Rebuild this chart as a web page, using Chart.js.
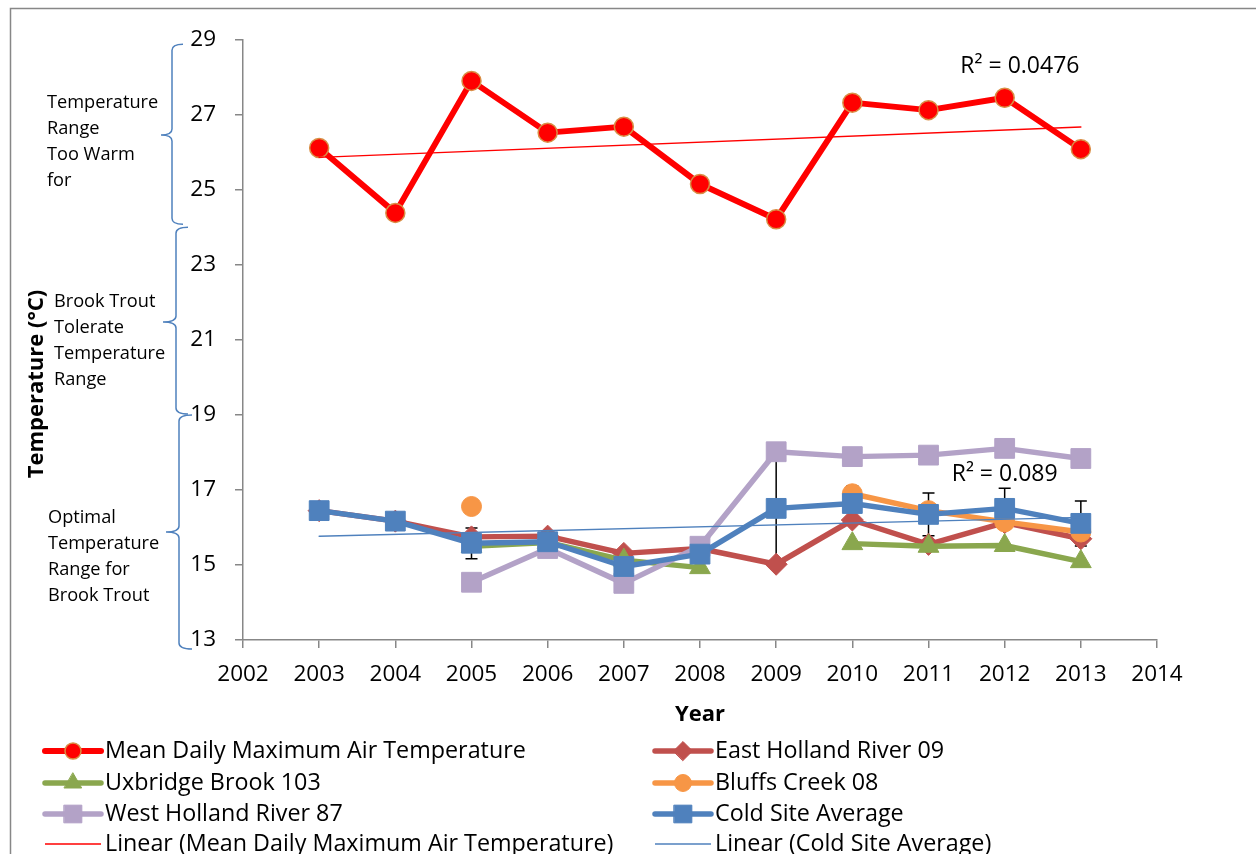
<!DOCTYPE html>
<html>
<head>
<meta charset="utf-8">
<title>Stream and Air Temperature, 2003–2013</title>
<script src="https://cdn.jsdelivr.net/npm/chart.js@4/dist/chart.umd.min.js"></script>
<style>
  html, body { margin: 0; padding: 0; background: #ffffff; overflow: hidden; }
  #wrap { position: relative; width: 1256px; height: 854px; }
  canvas { display: block; }
</style>
</head>
<body>
<div id="wrap"><canvas id="chart" width="1256" height="854"></canvas></div>
<script>
// ---- data -------------------------------------------------------------
const years = [2003, 2004, 2005, 2006, 2007, 2008, 2009, 2010, 2011, 2012, 2013];

const airTempMax    = [26.12, 24.39, 27.91, 26.53, 26.69, 25.16, 24.22, 27.33, 27.13, 27.46, 26.09];
const eastHolland09 = [16.45, 16.17, 15.75, 15.77, 15.31, 15.44, 15.02, 16.20, 15.55, 16.13, 15.70];
const uxbridge103   = [null, null, 15.50, 15.60, 15.13, 14.93, null, 15.57, 15.50, 15.52, 15.09];
const bluffs08      = [null, null, 16.56, null, null, null, null, 16.90, 16.45, 16.15, 15.88];
const westHolland87 = [null, null, 14.54, 15.44, 14.51, 15.50, 18.02, 17.89, 17.93, 18.11, 17.84];
const coldSiteAvg   = [16.45, 16.17, 15.58, 15.62, 14.96, 15.29, 16.51, 16.64, 16.35, 16.51, 16.11];
const coldSiteErr   = [null, null, 0.41, null, null, null, 1.50, 0.47, 0.57, 0.54, 0.60];

const seriesNames = [
  'Mean Daily Maximum Air Temperature',
  'East Holland River 09',
  'Uxbridge Brook 103',
  'Bluffs Creek 08',
  'West Holland River 87',
  'Cold Site Average',
  'Linear (Mean Daily Maximum Air Temperature)',
  'Linear (Cold Site Average)'
];

const xMin = 2002, xMax = 2014, xStep = 1;
const yMin = 13, yMax = 29, yStep = 2;

const xTitle = 'Year';
const yTitle = 'Temperature (°C)';

// R² labels of the two trend lines, anchored at [year, °C]
const rSquaredText = ['R² = 0.0476', 'R² = 0.089'];
const rSquaredAt   = [[2012.2, 28.3], [2012.0, 17.42]];

// tolerance bands marked by braces: [top, middle, bottom] in °C
const bandRanges = [[28.89, 26.47, 24.09], [24.01, 21.48, 19.03], [19.0, 15.88, 12.76]];
const bandLabels = [
  ['Temperature', 'Range', 'Too Warm', 'for'],
  ['Brook Trout', 'Tolerate', 'Temperature', 'Range'],
  ['Optimal', 'Temperature', 'Range for', 'Brook Trout']
];

// ---- styling ----------------------------------------------------------
const FONT = "'Open Sans', 'Liberation Sans', sans-serif";
const AXIS_GREY = '#878787';
const colors = {
  air: '#FF0000', airEdge: '#D98E45',
  east: '#C0504D', ux: '#8AA74E', bluffs: '#F79646', west: '#B3A2C7', cold: '#4F81BD'
};
const braceStyle = [
  { x: 172, hook: 11, tip: 11 },
  { x: 176, hook: 12, tip: 13 },
  { x: 179, hook: 13, tip: 13 }
];
const bandLabelStyle = [
  { x: 47, y: 103 }, { x: 54, y: 302 }, { x: 48, y: 518 }
];
const legendStyle = { cols: [45, 655], rows: [751, 783, 814, 844], lineLen: 56, gap: 4 };

// least-squares straight line through a series, over its first..last year
function linearTrend(xs, ys) {
  const pts = xs.map((x, i) => [x, ys[i]]).filter(p => p[1] != null);
  const n = pts.length;
  const mx = pts.reduce((s, p) => s + p[0], 0) / n;
  const my = pts.reduce((s, p) => s + p[1], 0) / n;
  let sxy = 0, sxx = 0;
  pts.forEach(p => { sxy += (p[0] - mx) * (p[1] - my); sxx += (p[0] - mx) ** 2; });
  const b = sxy / sxx, a = my - b * mx;
  const x0 = pts[0][0], x1 = pts[n - 1][0];
  return [{ x: x0, y: a + b * x0 }, { x: x1, y: a + b * x1 }];
}

const asPoints = arr => years.map((yr, i) => ({ x: yr, y: arr[i] }));

const lineCommon = {
  tension: 0, spanGaps: false, clip: false,
  borderCapStyle: 'round', borderJoinStyle: 'round'
};

const datasets = [
  Object.assign({}, lineCommon, {
    label: seriesNames[0], data: asPoints(airTempMax), order: 6,
    borderColor: colors.air, borderWidth: 6,
    pointStyle: 'circle', pointRadius: 9.5,
    pointBackgroundColor: colors.air, pointBorderColor: colors.airEdge, pointBorderWidth: 1.5
  }),
  Object.assign({}, lineCommon, {
    label: seriesNames[1], data: asPoints(eastHolland09), order: 5,
    borderColor: colors.east, borderWidth: 5.5,
    pointStyle: 'rectRot', pointRadius: 11,
    pointBackgroundColor: colors.east, pointBorderColor: colors.east, pointBorderWidth: 1
  }),
  Object.assign({}, lineCommon, {
    label: seriesNames[2], data: asPoints(uxbridge103), order: 4,
    borderColor: colors.ux, borderWidth: 5.5,
    pointStyle: 'triangle', pointRadius: 12,
    pointBackgroundColor: colors.ux, pointBorderColor: colors.ux, pointBorderWidth: 1
  }),
  Object.assign({}, lineCommon, {
    label: seriesNames[3], data: asPoints(bluffs08), order: 3,
    borderColor: colors.bluffs, borderWidth: 5.5,
    pointStyle: 'circle', pointRadius: 10,
    pointBackgroundColor: colors.bluffs, pointBorderColor: colors.bluffs, pointBorderWidth: 1
  }),
  Object.assign({}, lineCommon, {
    label: seriesNames[4], data: asPoints(westHolland87), order: 2,
    borderColor: colors.west, borderWidth: 5.5,
    pointStyle: 'rect', pointRadius: 14,
    pointBackgroundColor: colors.west, pointBorderColor: colors.west, pointBorderWidth: 1
  }),
  Object.assign({}, lineCommon, {
    label: seriesNames[5], data: asPoints(coldSiteAvg), order: 1,
    borderColor: colors.cold, borderWidth: 5.5,
    pointStyle: 'rect', pointRadius: 14,
    pointBackgroundColor: colors.cold, pointBorderColor: colors.cold, pointBorderWidth: 1
  }),
  Object.assign({}, lineCommon, {
    label: seriesNames[6], data: linearTrend(years, airTempMax), order: 0,
    borderColor: colors.air, borderWidth: 1.5, pointRadius: 0
  }),
  Object.assign({}, lineCommon, {
    label: seriesNames[7], data: linearTrend(years, coldSiteAvg), order: 0,
    borderColor: colors.cold, borderWidth: 1.5, pointRadius: 0
  })
];

// ---- plugins ----------------------------------------------------------
const framePlugin = {
  id: 'frame',
  beforeDraw(chart) {
    const c = chart.ctx;
    c.save();
    c.strokeStyle = AXIS_GREY; c.lineWidth = 1.5;
    c.strokeRect(10.5, 8.5, 1400, 1000);
    c.restore();
  }
};

const errorBarPlugin = {
  id: 'errorBars',
  beforeDatasetsDraw(chart) {
    const c = chart.ctx, xs = chart.scales.x, ys = chart.scales.y;
    c.save();
    c.strokeStyle = '#000000'; c.lineWidth = 1.5;
    years.forEach((yr, i) => {
      const e = coldSiteErr[i];
      if (e == null || coldSiteAvg[i] == null) return;
      const x = xs.getPixelForValue(yr);
      const yt = ys.getPixelForValue(coldSiteAvg[i] + e);
      const yb = ys.getPixelForValue(coldSiteAvg[i] - e);
      c.beginPath();
      c.moveTo(x, yt); c.lineTo(x, yb);
      c.moveTo(x - 6, yt); c.lineTo(x + 6, yt);
      c.moveTo(x - 6, yb); c.lineTo(x + 6, yb);
      c.stroke();
    });
    c.restore();
  }
};

function drawBrace(c, x, yTop, yMid, yBot, hook, tip) {
  const r = 6;
  c.beginPath();
  c.moveTo(x + hook, yTop);
  c.quadraticCurveTo(x, yTop, x, yTop + r);
  c.lineTo(x, yMid - r);
  c.quadraticCurveTo(x, yMid, x - tip, yMid);
  c.quadraticCurveTo(x, yMid, x, yMid + r);
  c.lineTo(x, yBot - r);
  c.quadraticCurveTo(x, yBot, x + hook, yBot);
  c.stroke();
}

const annotationPlugin = {
  id: 'annotations',
  afterDraw(chart) {
    const c = chart.ctx, xs = chart.scales.x, ys = chart.scales.y;
    c.save();

    // braces and their captions
    c.strokeStyle = colors.cold; c.lineWidth = 1.5;
    bandRanges.forEach((b, i) => {
      const s = braceStyle[i];
      drawBrace(c, s.x, ys.getPixelForValue(b[0]), ys.getPixelForValue(b[1]),
                ys.getPixelForValue(b[2]), s.hook, s.tip);
    });
    c.fillStyle = '#000000';
    c.font = `18.2px ${FONT}`;
    c.textAlign = 'left'; c.textBaseline = 'middle';
    bandLabels.forEach((lines, i) => {
      const s = bandLabelStyle[i];
      lines.forEach((t, k) => c.fillText(t, s.x, s.y + k * 26));
    });

    // axis titles
    c.font = `bold 22px ${FONT}`;
    c.textAlign = 'center';
    c.fillText(xTitle, (xs.left + xs.right) / 2, 715);
    c.save();
    c.translate(37, 384);
    c.rotate(-Math.PI / 2);
    c.fillText(yTitle, 0, 0);
    c.restore();

    // trend-line R² labels
    c.font = `23px ${FONT}`;
    rSquaredText.forEach((t, i) => {
      c.fillText(t, xs.getPixelForValue(rSquaredAt[i][0]), ys.getPixelForValue(rSquaredAt[i][1]));
    });

    // legend, two columns
    const metas = chart.data.datasets;
    const legendMarker = [
      { s: 'circle', r: 8 }, { s: 'rectRot', r: 9.5 }, { s: 'triangle', r: 10 },
      { s: 'circle', r: 8.5 }, { s: 'rect', r: 12.5 }, { s: 'rect', r: 12.5 },
      null, null
    ];
    c.font = `23.3px ${FONT}`;
    c.textAlign = 'left';
    metas.forEach((ds, i) => {
      const x0 = legendStyle.cols[i % 2];
      const y = legendStyle.rows[Math.floor(i / 2)];
      const x1 = x0 + legendStyle.lineLen;
      c.strokeStyle = ds.borderColor;
      c.lineWidth = ds.borderWidth;
      c.lineCap = ds.borderWidth > 2 ? 'round' : 'butt';
      c.beginPath(); c.moveTo(x0, y); c.lineTo(x1, y); c.stroke();
      const m = legendMarker[i];
      if (m) {
        c.fillStyle = ds.pointBackgroundColor;
        c.strokeStyle = ds.pointBorderColor;
        c.lineWidth = ds.pointBorderWidth;
        Chart.helpers.drawPoint(c, { pointStyle: m.s, radius: m.r, rotation: 0,
          borderWidth: ds.pointBorderWidth }, (x0 + x1) / 2, y);
      }
      c.fillStyle = '#000000';
      c.fillText(ds.label, x1 + legendStyle.gap, y);
    });
    c.restore();
  }
};

// ---- chart ------------------------------------------------------------
const tickFont = { family: FONT, size: 22.5 };

new Chart(document.getElementById('chart'), {
  type: 'line',
  data: { datasets },
  options: {
    responsive: false,
    animation: false,
    devicePixelRatio: 1,
    layout: { padding: { left: 0, right: 99, top: 40, bottom: 0 } },
    plugins: { legend: { display: false }, tooltip: { enabled: false } },
    scales: {
      x: {
        type: 'linear', min: xMin, max: xMax,
        ticks: { stepSize: xStep, padding: 13, color: '#000000', font: tickFont,
                 callback: v => String(v), maxRotation: 0, autoSkip: false },
        grid: { drawOnChartArea: false, drawTicks: true, tickLength: 8, color: AXIS_GREY, lineWidth: 1.5 },
        border: { color: AXIS_GREY, width: 1.5 },
        afterFit: s => { s.height = 214; }
      },
      y: {
        type: 'linear', min: yMin, max: yMax,
        ticks: { stepSize: yStep, padding: 19, color: '#000000', font: tickFont,
                 callback: v => String(v) },
        grid: { drawOnChartArea: false, drawTicks: true, tickLength: 8, color: AXIS_GREY, lineWidth: 1.5 },
        border: { color: AXIS_GREY, width: 1.5 },
        afterFit: s => { s.width = 243; }
      }
    }
  },
  plugins: [framePlugin, errorBarPlugin, annotationPlugin]
});
</script>
</body>
</html>
